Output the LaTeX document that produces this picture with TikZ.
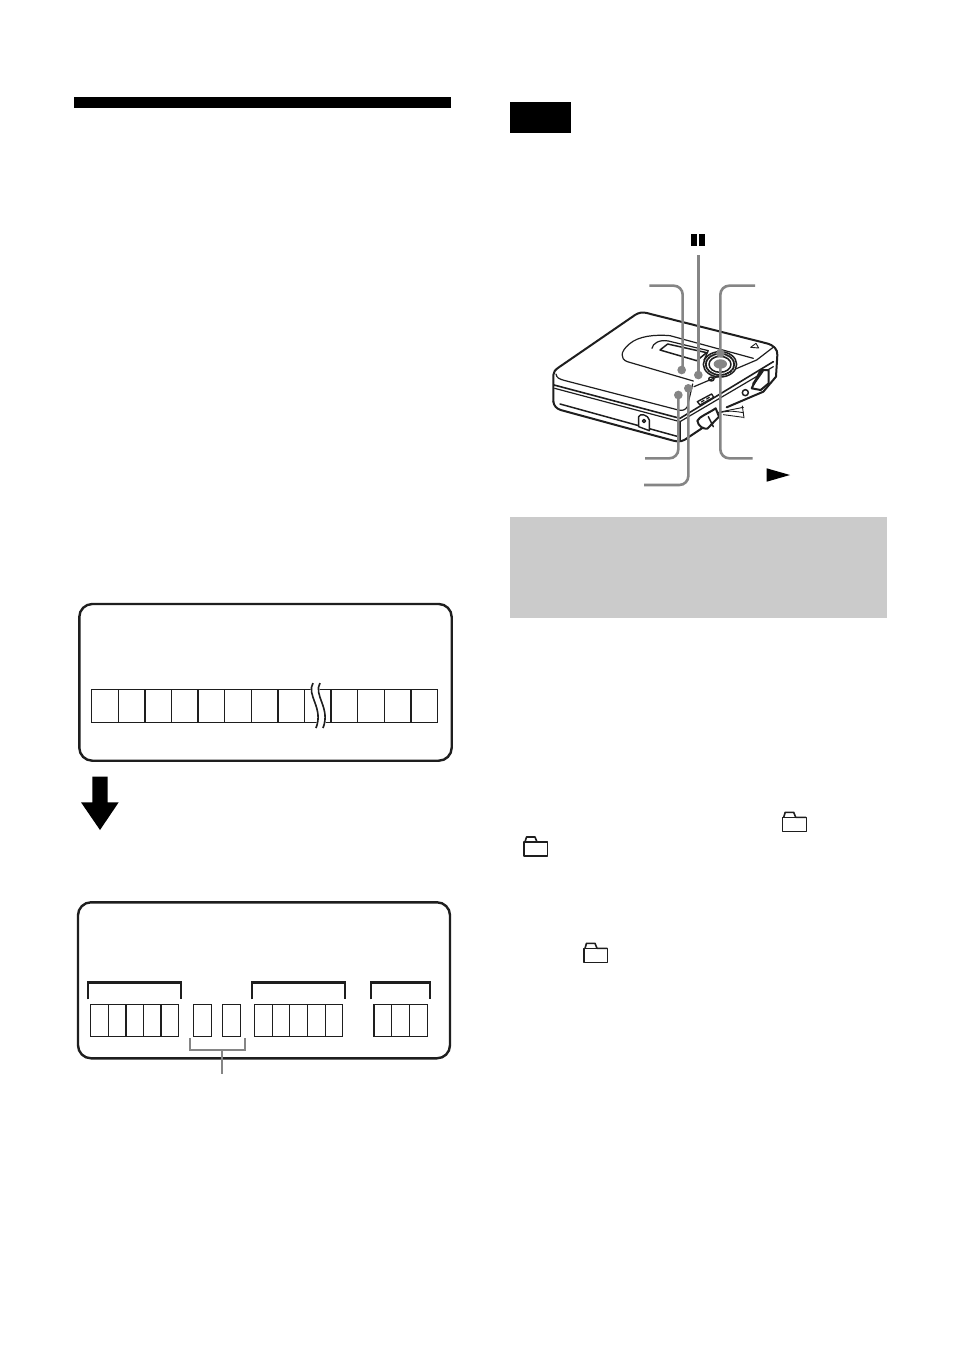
\documentclass[tikz,border=0pt]{standalone}
\definecolor{leadgray}{gray}{0.52}
\definecolor{panelgray}{HTML}{CBCBCB}
\definecolor{ink}{HTML}{1E1E1E}
\tikzset{
  x=1pt,y=-1pt,
  panel/.style={draw=ink,line width=2.4pt,rounded corners=13pt},
  cell/.style={draw=ink,line width=1.4pt},
  brack/.style={draw=ink,line width=2.8pt},
  lead/.style={draw=leadgray,line width=2.6pt,rounded corners=9pt},
  gline/.style={draw=leadgray,line width=2pt},
  dev/.style={draw=ink,line width=2pt,line join=round,line cap=round},
  devthin/.style={draw=ink,line width=1.2pt,line join=round,line cap=round},
  folder/.style={draw=ink,line width=1.2pt,line join=round}
}
\newcommand{\foldericon}[2]{%
  \draw[folder] (#1,#2+5) rectangle (#1+23.4,#2+19);
  \draw[folder,line width=1.6pt] (#1+1,#2+5) -- (#1+2.5,#2) -- (#1+11,#2) -- (#1+13,#2+5) -- (#1+23.4,#2+5);
}
\begin{document}
\begin{tikzpicture}
\useasboundingbox (0,0) rectangle (954,1357);
\fill[white] (0,0) rectangle (954,1357);
% header bar, note tab, grey panel
\fill[black] (74,97) rectangle (451,108);
\fill[black] (510,102) rectangle (571,133);
\fill[panelgray] (510,517) rectangle (887,618);
% upper box
\draw[panel] (79.3,604) rectangle (451.7,760.7);
\draw[cell] (91.7,689.3) rectangle (437.7,722.3);
\foreach \i in {1,...,12} \draw[cell] (91.7+\i*26.6,689.3) -- (91.7+\i*26.6,722.3);
\fill[white] (312,683) .. controls (305,695) and (323,708) .. (315,728) -- (324,728) .. controls (332,708) and (314,695) .. (321,683) -- cycle;
\draw[draw=ink,line width=1.6pt] (313,683) .. controls (306,695) and (324,708) .. (316,728);
\draw[draw=ink,line width=1.6pt] (320,683) .. controls (313,695) and (331,708) .. (323,728);
% block arrow
\fill[black] (92.3,776.7) -- (107.7,776.7) -- (107.7,802.3) -- (118.7,802.3) -- (100,830) -- (81,802.3) -- (92.3,802.3) -- cycle;
% lower box
\draw[panel] (78,902.3) rectangle (450,1058.3);
\draw[brack] (88,999.3) -- (88,982.5) -- (181,982.5) -- (181,999.3);
\draw[brack] (252,999.3) -- (252,982.5) -- (345,982.5) -- (345,999.3);
\draw[brack] (371,999.3) -- (371,982.5) -- (430,982.5) -- (430,999.3);
\draw[cell] (90.3,1004.3) rectangle (178.7,1036.3);
\foreach \x in {108.3,126,143.3,161} \draw[cell] (\x,1004.3) -- (\x,1036.3);
\draw[cell] (193.3,1004.3) rectangle (211.7,1036.3);
\draw[cell] (222.7,1004.3) rectangle (240.7,1036.3);
\draw[cell] (254.7,1004.3) rectangle (342.7,1036.3);
\foreach \x in {272.3,289.7,307.7,325.3} \draw[cell] (\x,1004.3) -- (\x,1036.3);
\draw[cell] (374,1004.3) rectangle (427.3,1036.3);
\foreach \x in {391.3,409.3} \draw[cell] (\x,1004.3) -- (\x,1036.3);
\draw[gline,line width=2.4pt,line join=miter] (190,1038.3) -- (190,1050) -- (245,1050) -- (245,1038.3);
\draw[gline] (222.3,1050) -- (222.3,1074.3);
% folder icons
\foldericon{782.7}{812.3}
\foldericon{524}{837}
\foldericon{584}{943.3}
% pause and play glyphs
\fill[black] (690.5,234) rectangle (696.5,246);
\fill[black] (698.7,234) rectangle (704.7,246);
\fill[black] (766.7,468.3) -- (790,475) -- (766.7,481.7) -- cycle;
% device, drawn in the 3x crop's coordinates
\begin{scope}[shift={(540,220)},x=0.33333pt,y=-0.33333pt]
  % body
  \fill[white] (40,460) -- (285,285) -- (320,278) -- (690,372) -- (712,395) -- (708,470) -- (670,515) -- (440,660) -- (415,665) -- (60,570) -- (40,545) -- cycle;
  \draw[dev] (40,545) -- (40,465) .. controls (40,455) and (46,450) .. (55,443) -- (285,285) .. controls (298,277) and (308,276) .. (320,279) -- (680,370) .. controls (702,376) and (713,388) .. (712,405) -- (708,470) -- (670,515) -- (560,562);
  \draw[dev] (40,545) .. controls (42,558) and (50,566) .. (62,570) -- (400,662) .. controls (418,667) and (430,664) .. (445,652) -- (490,622);
  % top face front edge
  \draw[devthin] (48,462) .. controls (50,474) and (58,477) .. (72,481) -- (415,570) .. controls (428,573) and (436,570) .. (442,560) -- (458,492);
  \draw[devthin] (462,500) -- (650,420) -- (702,380);
  % seam
  \draw[dev,line width=1.6pt] (42,495) -- (420,595) -- (700,425);
  \draw[devthin] (44,505) -- (420,605) -- (700,440);
  \draw[devthin] (420,605) -- (420,660);
  % lower seam
  \draw[devthin,line width=1.5pt] (60,552) -- (296,617);
  \draw[devthin,line width=1.5pt] (328,626) -- (415,650);
  % disc lid
  \draw[devthin] (460,483) -- (262,425) .. controls (240,417) and (240,395) .. (268,372) .. controls (295,348) and (345,343) .. (390,347) -- (640,415);
  % display
  \draw[devthin] (336,385) .. controls (338,370) and (358,358) .. (385,363) -- (505,392) -- (492,420);
  \draw[dev,line width=1.5pt,fill=white] (360,390) -- (383,372) -- (500,398) -- (470,422) -- cycle;
  % jog dial
  \draw[dev,line width=1.5pt,fill=white] (540,433) ellipse (50 and 38);
  \draw[devthin,line width=2pt,dash pattern=on 1.2pt off 1pt] (540,433) ellipse (43 and 32);
  \draw[dev,line width=1.5pt,fill=white] (540,433) ellipse (33 and 24);
  % small button, hold switch, jack, flap
  \draw[devthin,line width=1.4pt] (514,477) ellipse (8 and 6);
  \draw[devthin,line width=1.4pt,fill=white] (472,545) -- (515,522) -- (521,532) -- (480,555) -- cycle;
  \draw[devthin] (484,546) -- (492,541) (500,537) -- (508,532);
  \draw[devthin,line width=1.5pt] (616,518) circle (9);
  \draw[dev,fill=white] (635,505) -- (662,450) -- (686,450) -- (686,490) -- (662,510) -- cycle;
  \draw[dev,line width=2.6pt] (640,492) -- (668,452);
  \draw[devthin,line width=0.9pt] (632,382) -- (648,370) -- (656,384) -- cycle;
  % clip
  \draw[devthin,line width=1.4pt,fill=white] (296,590) -- (296,620) -- (328,632) -- (328,600) .. controls (325,585) and (300,578) .. (296,590) -- cycle;
  \draw[devthin,line width=1.4pt] (312,603) circle (5);
  % remote plug
  \draw[devthin,line width=0.9pt] (530,578) -- (610,562);
  \draw[devthin,line width=0.9pt] (540,578) .. controls (570,570) and (590,575) .. (610,578);
  \draw[devthin,line width=0.9pt] (550,584) -- (610,592);
  \draw[devthin,line width=0.9pt] (607,558) -- (612,594);
  \draw[dev,fill=white] (472,602) .. controls (478,590) and (505,580) .. (527,565) -- (537,590) -- (502,626) .. controls (490,628) and (474,618) .. (472,602) -- cycle;
  \draw[dev,line width=1.5pt] (505,590) -- (520,620);
  % leaders
  \draw[lead] (475,105) -- (475,465);
  \draw[lead] (328,197) -- (428,197) -- (428,450);
  \draw[lead] (645,197) -- (541,197) -- (541,400);
  \draw[lead] (638,715) -- (541,715) -- (541,432);
  \draw[lead] (315,715) -- (415,715) -- (415,525);
  \draw[lead] (312,795) -- (445,795) -- (445,505);
  \foreach \p in {(475,465),(425,450),(541,400),(415,525),(445,505)}
    \fill[leadgray] \p circle (13);
  \fill[leadgray] (541,432) ellipse (20 and 14);
\end{scope}
\end{tikzpicture}
\end{document}
